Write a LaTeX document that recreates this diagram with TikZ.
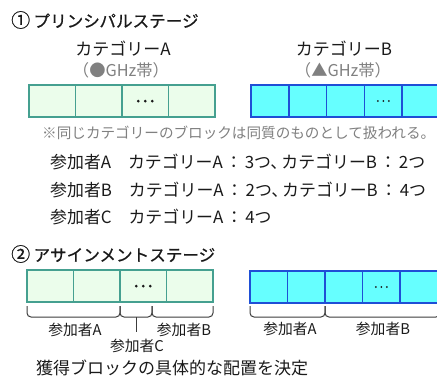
\documentclass[tikz,border=0pt]{standalone}
\usepackage{fontspec}
\setmainfont{Noto Sans CJK JP}
\newfontfamily\ttlfont[FakeBold=0.7]{Noto Sans CJK JP}
\definecolor{gfill}{HTML}{EBFDEB}
\definecolor{gline}{HTML}{45A090}
\definecolor{bfill}{HTML}{66FFFF}
\definecolor{bline}{HTML}{1F4FD6}
\definecolor{txt}{HTML}{1A1A1A}
\definecolor{gtxt}{HTML}{808080}
\newcommand{\cspc}{\hspace{0.15em}：\hspace{0.15em}}
\newcommand{\tten}{、\hspace{-0.35em}}
\tikzset{
  gcell/.style={draw=gline, fill=gfill, line width=1.5pt, minimum width=46.5pt, minimum height=32pt, inner sep=0pt, outer sep=0pt, anchor=north west},
  bcell/.style={draw=bline, fill=bfill, line width=1.5pt, minimum width=37.8pt, minimum height=32pt, inner sep=0pt, outer sep=0pt, anchor=north west},
  ttl/.style={anchor=west, inner sep=0pt, text=txt, font=\fontsize{16.6}{18}\ttlfont},
  cat/.style={inner sep=0pt, text=txt, font=\fontsize{17}{18}\selectfont},
  sub/.style={inner sep=0pt, text=gtxt, font=\fontsize{16.3}{17}\selectfont},
  body/.style={anchor=west, inner sep=0pt, text=txt, font=\fontsize{16.9}{18}\selectfont},
  note/.style={anchor=west, inner sep=0pt, text=gtxt, font=\fontsize{14.6}{16}\selectfont},
  lab/.style={inner sep=0pt, text=txt, font=\fontsize{14.8}{16}\selectfont},
  brk/.style={draw=txt!85, line width=1pt, rounded corners=4pt},
}
\begin{document}
\begin{tikzpicture}[x=1pt,y=-1pt]
\useasboundingbox (0,0) rectangle (437,378);
% Stage 1
\node[ttl] (t1) at (11,20) {{\fontsize{19}{20}\selectfont ①}\hspace{0.2em}プリンシパルステージ};
\node[cat] (ca) at (123,49) {カテゴリーA};
\node[sub] (sa) at (121,70) {（●GHz帯）};
\node[cat] (cb) at (344,49) {カテゴリーB};
\node[sub] (sb) at (343,70) {（▲GHz帯）};
\foreach \i in {0,1,2,3} {
  \node[gcell] (ga\i) at (29+46.5*\i,85) {};
}
\foreach \i in {0,...,4} {
  \node[bcell] (ba\i) at (251+37.8*\i,85) {};
}
\foreach \d in {-7,0,7} { \fill[txt] ([xshift=\d pt]ga2.center) circle (1.5pt); }
\foreach \d in {-5.5,0,5.5} { \fill[txt] ([xshift=\d pt]ba3.center) circle (1pt); }
\node[note] (nt) at (42,133) {※同じカテゴリーのブロックは同質のものとして扱われる。};
\node[body] (l1) at (50,162) {参加者A　カテゴリーA\cspc 3つ\tten カテゴリーB\cspc 2つ};
\node[body] (l2) at (50,190) {参加者B　カテゴリーA\cspc 2つ\tten カテゴリーB\cspc 4つ};
\node[body] (l3) at (50,217) {参加者C　カテゴリーA\cspc 4つ};
% Stage 2
\node[ttl] (t2) at (11,254) {{\fontsize{19}{20}\selectfont ②}\hspace{0.2em}アサインメントステージ};
\foreach \i in {0,1,2,3} {
  \node[gcell] (gb\i) at (27+46.5*\i,270) {};
}
\foreach \i in {0,...,4} {
  \node[bcell] (bb\i) at (250+37.5*\i,271) {};
}
\foreach \d in {-7,0,7} { \fill[txt] ([xshift=\d pt]gb2.center) circle (1.5pt); }
\foreach \d in {-5.5,0,5.5} { \fill[txt] ([xshift=\d pt]bb3.center) circle (1pt); }
% brackets
\coordinate (p0) at (27,306);
\coordinate (p1) at (120,306);
\coordinate (p2) at (152,306);
\coordinate (p3) at (213,306);
\draw[brk] (p0) -- ++(0,11) -| (p1);
\draw[brk] (p1) -- ++(0,11) -| (p2);
\draw[brk] (p2) -- ++(0,11) -| (p3);
\coordinate (c1) at (136,317);
\coordinate (c2) at (136,332);
\draw[draw=txt!85, line width=1pt] (c1) -- (c2);
\node[lab] (pa) at (75,330) {参加者A};
\node[lab] (pb) at (184,330) {参加者B};
\node[lab] (pc) at (137,346) {参加者C};
\coordinate (q0) at (250,306);
\coordinate (q1) at (325,306);
\coordinate (q2) at (440,306);
\draw[brk] (q0) -- ++(0,11) -| (q1);
\draw[brk] (q1) -- ++(0,11) -| (q2);
\node[lab] (qa) at (290,329) {参加者A};
\node[lab] (qb) at (383,329) {参加者B};
\node[body, font=\fontsize{17}{18}\selectfont] (fin) at (36,368) {獲得ブロックの具体的な配置を決定};
\end{tikzpicture}
\end{document}
